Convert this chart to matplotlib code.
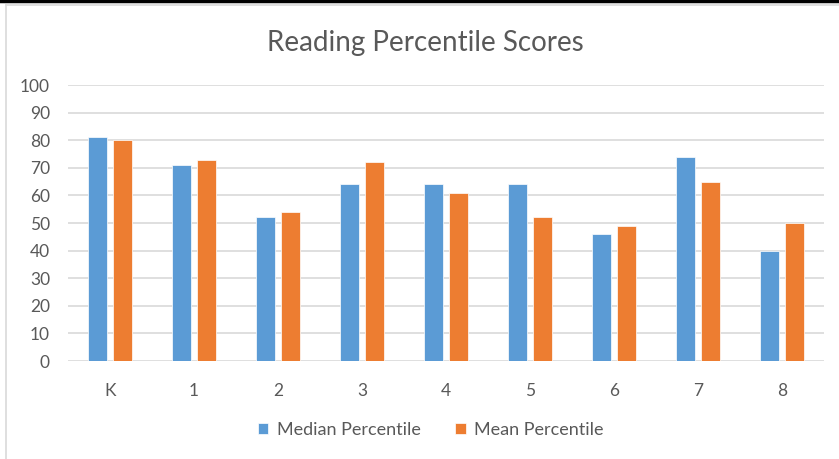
import matplotlib
matplotlib.use("Agg")
import matplotlib.pyplot as plt
import numpy as np

grades = ["K", "1", "2", "3", "4", "5", "6", "7", "8"]
median_pct = [81, 71, 52, 64, 64, 64, 46, 74, 40]
mean_pct = [80, 73, 54, 72, 61, 52, 49, 65, 50]
yticks = list(range(0, 101, 10))

BLUE, ORANGE, TXT, GRID = "#5B9BD5", "#ED7D31", "#595959", "#D9D9D9"
plt.rcParams["font.family"] = ["Lato", "DejaVu Sans"]

W, H = 839, 459
fig = plt.figure(figsize=(W / 100, H / 100), dpi=100)
ax = fig.add_axes([68 / W, 1 - 361 / H, (824 - 68) / W, (361 - 85) / H])

x = np.arange(len(grades))
bw = 0.225
ax.bar(x - 0.145, median_pct, bw, color=BLUE, edgecolor="white", linewidth=0.5, zorder=3, label="Median Percentile")
ax.bar(x + 0.145, mean_pct, bw, color=ORANGE, edgecolor="white", linewidth=0.5, zorder=3, label="Mean Percentile")

ax.set_xlim(-0.5, len(grades) - 0.5)
ax.set_ylim(0, 100)
ax.set_yticks(yticks)
ax.set_xticks(x)
ax.set_xticklabels(grades)
ax.yaxis.grid(True, color=GRID, linewidth=1.2, zorder=0)
ax.set_axisbelow(True)
for s in ax.spines.values():
    s.set_visible(False)
ax.tick_params(length=0, colors=TXT, labelsize=12.5)
ax.tick_params(axis="y", pad=13)
ax.tick_params(axis="x", pad=16)

fig.text(0.507, 1 - 43 / H, "Reading Percentile Scores", ha="center", va="center",
         fontsize=20, color=TXT)

leg = fig.legend(loc="center", bbox_to_anchor=(0.513, 1 - 430 / H), ncol=2, frameon=False,
                 fontsize=13, handlelength=0.6, handleheight=0.6, columnspacing=1.9, handletextpad=0.45)
for t in leg.get_texts():
    t.set_color(TXT)

# chart frame bits
fig.add_artist(plt.Line2D([0, 1], [1 - 1 / H, 1 - 1 / H], color="black", linewidth=2.5, transform=fig.transFigure))
fig.add_artist(plt.Line2D([5.5 / W, 1], [1 - 4.5 / H, 1 - 4.5 / H], color="#D9D9D9", linewidth=1.2, transform=fig.transFigure))
fig.add_artist(plt.Line2D([5.5 / W, 5.5 / W], [0, 1 - 4.5 / H], color="#D9D9D9", linewidth=1.2, transform=fig.transFigure))

fig.savefig("out.png", dpi=100)
